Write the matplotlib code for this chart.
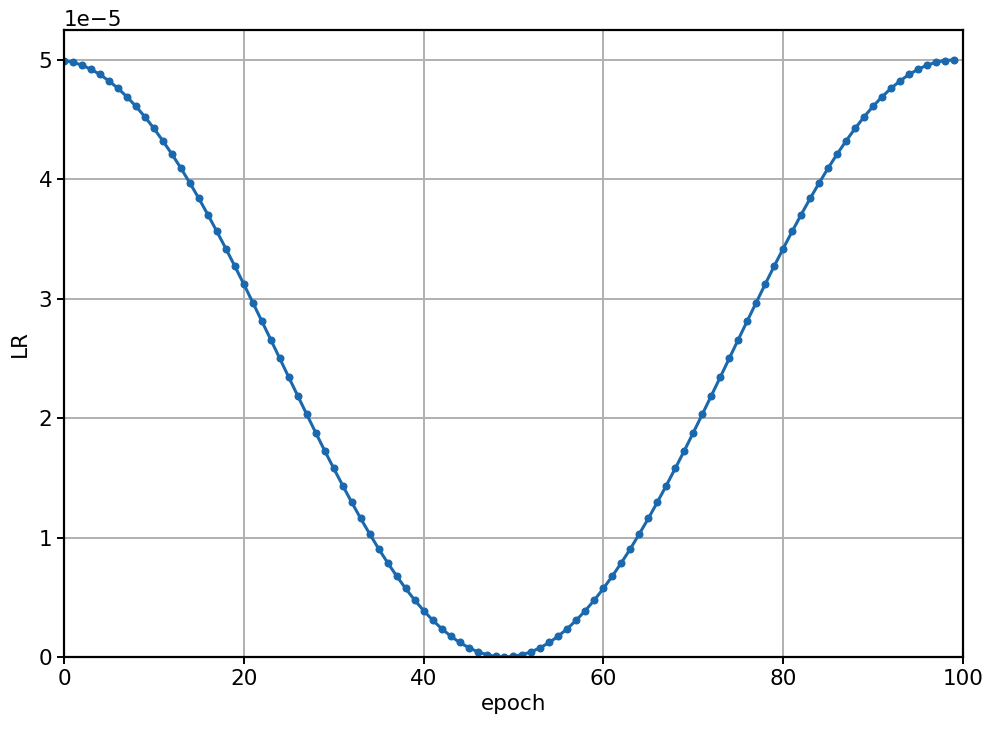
import matplotlib
matplotlib.use("Agg")
import matplotlib.pyplot as plt
import numpy as np

# learning rate per epoch (units of 1e-5)
epochs = list(range(100))
lr_e5 = [
    4.995, 4.980, 4.956, 4.921, 4.878, 4.824, 4.762, 4.691, 4.611, 4.523,
    4.426, 4.322, 4.211, 4.094, 3.969, 3.840, 3.704, 3.564, 3.420, 3.273,
    3.122, 2.968, 2.813, 2.657, 2.500, 2.343, 2.187, 2.032, 1.878, 1.727,
    1.580, 1.436, 1.296, 1.160, 1.031, 0.906, 0.789, 0.678, 0.574, 0.477,
    0.389, 0.309, 0.238, 0.176, 0.122, 0.079, 0.044, 0.020, 0.005, 0.000,
    0.005, 0.020, 0.044, 0.079, 0.122, 0.176, 0.238, 0.309, 0.389, 0.477,
    0.574, 0.678, 0.789, 0.906, 1.031, 1.160, 1.296, 1.436, 1.580, 1.727,
    1.878, 2.032, 2.187, 2.343, 2.500, 2.657, 2.813, 2.968, 3.122, 3.273,
    3.420, 3.564, 3.704, 3.840, 3.969, 4.094, 4.211, 4.322, 4.426, 4.523,
    4.611, 4.691, 4.762, 4.824, 4.878, 4.921, 4.956, 4.980, 4.995, 5.000,
]

plt.rcParams["font.family"] = ["DejaVu Sans"]
plt.rcParams["font.size"] = 15.5

fig = plt.figure(figsize=(9.91, 7.33), dpi=100)
ax = fig.add_axes([0.0646, 0.1037, 0.9071, 0.8553])

lr = np.array(lr_e5) * 1e-5
ax.plot(epochs, lr, color="#1a68ad", linewidth=2.2, marker=".", markersize=9.5)

ax.set_xlim(0, 100)
ax.set_ylim(0, 5.25e-5)
ax.set_xticks([0, 20, 40, 60, 80, 100])
ax.set_yticks(np.arange(0, 6) * 1e-5)
ax.set_xlabel("epoch", labelpad=4)
ax.set_ylabel("LR", labelpad=6)
ax.grid(True, color="#b0b0b0", linewidth=1.4)
ax.set_axisbelow(True)
for s in ax.spines.values():
    s.set_linewidth(1.6)
ax.tick_params(width=1.4, length=5)

fig.savefig("out.png", dpi=100)
